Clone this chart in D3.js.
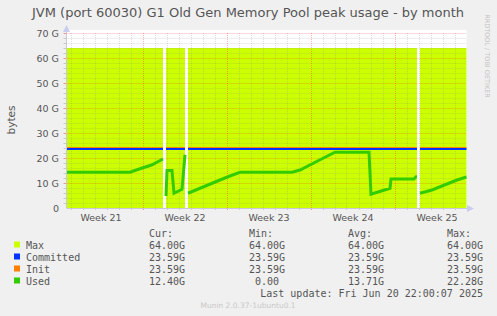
<!DOCTYPE html>
<html>
<head>
<meta charset="utf-8">
<script src="https://cdn.jsdelivr.net/npm/d3@7"></script>
<style>
  body { margin: 0; background: #f0f0f0; }
  svg { display: block; }
</style>
</head>
<body>
<div id="chart"></div>
<script>
// samples (GiB), null = no data
var sampleTimes = [
  "2025-05-18T16:00", "2025-05-23T23:00", "2025-05-24T16:00", "2025-05-25T18:00", "2025-05-26T17:00",
  "2025-05-26T19:00",
  "2025-05-26T23:00", "2025-05-27T01:00", "2025-05-27T11:00", "2025-05-27T15:00", "2025-05-28T07:00", "2025-05-28T13:00",
  "2025-05-28T16:00",
  "2025-05-28T19:00", "2025-05-29T19:00", "2025-05-30T23:00", "2025-06-01T03:00", "2025-06-02T03:00",
  "2025-06-06T11:00", "2025-06-07T03:00", "2025-06-09T01:00", "2025-06-10T01:00", "2025-06-12T21:00",
  "2025-06-13T01:00", "2025-06-14T15:00", "2025-06-14T17:00", "2025-06-16T15:00", "2025-06-16T19:00", "2025-06-16T21:00",
  "2025-06-17T00:00",
  "2025-06-17T03:00", "2025-06-18T03:00", "2025-06-20T05:00", "2025-06-21T00:00"
];
var usedValues = [
  14.3, 14.3, 15.5, 17.2, 19.6,
  null,
  4.8, 15.0, 15.0, 5.9, 7.5, 21.3,
  null,
  5.9, 7.9, 10.2, 12.5, 14.3,
  14.3, 15.2, 19.9, 22.3, 22.3,
  5.5, 7.9, 11.6, 11.6, 12.5, 12.5,
  null,
  5.9, 7.2, 11.2, 12.4
];
var maxValues = usedValues.map(function (v) { return v == null ? null : 64; });
var committedValues = usedValues.map(function (v) { return v == null ? null : 23.59; });
var initValues = usedValues.map(function (v) { return v == null ? null : 23.59; });

var yTicks = [0, 10, 20, 30, 40, 50, 60, 70];
var weekLabelDates = ["2025-05-21T12:00", "2025-05-28T12:00", "2025-06-04T12:00", "2025-06-11T12:00", "2025-06-18T12:00"];

var legendNames = ["Max", "Committed", "Init", "Used"];
var legendColors = ["#ccff00", "#0033ff", "#ff7f00", "#33cc00"];
var legendCur = ["64.00G", "23.59G", "23.59G", "12.40G"];
var legendMin = ["64.00G", "23.59G", "23.59G", " 0.00 "];
var legendAvg = ["64.00G", "23.59G", "23.59G", "13.71G"];
var legendMax = ["64.00G", "23.59G", "23.59G", "22.28G"];

var parse = d3.timeParse("%Y-%m-%dT%H:%M");
var rows = sampleTimes.map(function (t, i) {
    return { t: parse(t), max: maxValues[i], committed: committedValues[i], init: initValues[i], used: usedValues[i] };
});

var svg = d3.select("#chart").append("svg").attr("width", 497).attr("height", 316);

var x = d3.scaleTime().domain([parse("2025-05-18T16:00"), parse("2025-06-21T00:00")]).range([66.5, 466.5]);
var y = d3.scaleLinear().domain([0, 70]).range([208, 33]);

// plot background
svg.append("rect").attr("x", 66.5).attr("y", 30).attr("width", 400).attr("height", 178).attr("fill", "#ffffff");

// Max area
var area = d3.area()
    .defined(function (d) { return d.max != null; })
    .x(function (d) { return x(d.t); })
    .y0(y(0))
    .y1(function (d) { return y(d.max); });
svg.append("path").datum(rows).attr("d", area).attr("fill", "#ccff00");

// grid
var grid = svg.append("g");
var days = d3.timeDay.range(d3.timeDay.ceil(x.domain()[0]), x.domain()[1]);
days.forEach(function (d) {
    var sunday = d.getDay() === 0;
    grid.append("line")
        .attr("x1", Math.round(x(d)) + 0.5).attr("x2", Math.round(x(d)) + 0.5)
        .attr("y1", y(70)).attr("y2", y(0))
        .attr("stroke", sunday ? "rgba(255,0,0,0.3)" : "rgba(128,128,128,0.25)")
        .attr("stroke-dasharray", "1,1");
    grid.append("line")
        .attr("x1", Math.round(x(d)) + 0.5).attr("x2", Math.round(x(d)) + 0.5)
        .attr("y1", y(0)).attr("y2", y(0) + 2)
        .attr("stroke", sunday ? "rgba(255,0,0,0.4)" : "#c8c8c8");
});
d3.range(2, 71, 2).forEach(function (v) {
    var major = v % 10 === 0;
    grid.append("line")
        .attr("x1", 66.5).attr("x2", 466.5)
        .attr("y1", Math.round(y(v)) + 0.5).attr("y2", Math.round(y(v)) + 0.5)
        .attr("stroke", major ? "rgba(255,0,0,0.3)" : "rgba(128,128,128,0.25)")
        .attr("stroke-dasharray", "1,1");
    grid.append("line")
        .attr("x1", 63.5).attr("x2", 66.5)
        .attr("y1", Math.round(y(v)) + 0.5).attr("y2", Math.round(y(v)) + 0.5)
        .attr("stroke", major ? "rgba(255,0,0,0.4)" : "#c8c8c8");
});

// lines
function lineFor(key) {
    return d3.line()
        .defined(function (d) { return d[key] != null; })
        .x(function (d) { return x(d.t); })
        .y(function (d) { return y(d[key]); });
}
svg.append("path").datum(rows).attr("d", lineFor("init")).attr("transform", "translate(0,-1.5)")
    .attr("fill", "none").attr("stroke", "#ff7f00").attr("stroke-width", 1);
svg.append("path").datum(rows).attr("d", lineFor("committed"))
    .attr("fill", "none").attr("stroke", "#0033ff").attr("stroke-width", 2);
svg.append("path").datum(rows).attr("d", lineFor("used")).attr("fill", "none").attr("stroke", "#33cc00").attr("stroke-width", 3);

// axes lines and arrows
svg.append("line").attr("x1", 66.5).attr("x2", 66.5).attr("y1", 208).attr("y2", 30).attr("stroke", "#c8c8d8");
svg.append("line").attr("x1", 66.5).attr("x2", 470).attr("y1", 208.5).attr("y2", 208.5).attr("stroke", "#c8c8d8");
svg.append("path").attr("d", "M63,32 L70,32 L66.5,25 Z").attr("fill", "#c8ccf0");
svg.append("path").attr("d", "M467,205 L467,212 L474,208.5 Z").attr("fill", "#c8ccf0");

// axis labels
var yAxis = d3.axisLeft(y).tickValues(yTicks).tickSize(0).tickPadding(7)
    .tickFormat(function (v) { return v === 0 ? "0" : v + " G"; });
var gy = svg.append("g").attr("transform", "translate(66,0)").call(yAxis);
gy.select(".domain").remove();
gy.selectAll("text").attr("font-family", "DejaVu Sans").attr("font-size", "9.5px").attr("fill", "#555");

var xAxis = d3.axisBottom(x).tickValues(weekLabelDates.map(parse)).tickSize(0).tickPadding(6)
    .tickFormat(d3.timeFormat("Week %V"));
var gx = svg.append("g").attr("transform", "translate(0,208)").call(xAxis);
gx.select(".domain").remove();
gx.selectAll("text").attr("font-family", "DejaVu Sans").attr("font-size", "9.5px").attr("fill", "#555");

// titles
svg.append("text").text("JVM (port 60030) G1 Old Gen Memory Pool peak usage - by month")
    .attr("x", 248).attr("y", 17).attr("text-anchor", "middle")
    .attr("font-family", "DejaVu Sans").attr("font-size", "13px").attr("fill", "#555");
svg.append("text").text("bytes")
    .attr("transform", "translate(15,120) rotate(-90)").attr("text-anchor", "middle")
    .attr("font-family", "DejaVu Sans").attr("font-size", "10.5px").attr("fill", "#555");
svg.append("text").text("RRDTOOL / TOBI OETIKER")
    .attr("transform", "translate(485,56) rotate(90)").attr("text-anchor", "middle")
    .attr("font-family", "DejaVu Sans").attr("font-size", "6.5px").attr("fill", "#c4c4c4");

// legend
var mono = "DejaVu Sans Mono";
var headers = [["Cur:", 149], ["Min:", 249], ["Avg:", 348], ["Max:", 447]];
headers.forEach(function (h) {
    svg.append("text").text(h[0]).attr("x", h[1]).attr("y", 236.5)
        .attr("font-family", mono).attr("font-size", "10px").attr("fill", "#555");
});
var cols = [[legendCur, 185], [legendMin, 285], [legendAvg, 384], [legendMax, 483]];
legendNames.forEach(function (name, i) {
    var cy = 248.5 + i * 12;
    svg.append("rect").attr("x", 14).attr("y", cy - 7).attr("width", 6).attr("height", 6).attr("fill", legendColors[i]);
    svg.append("text").text(name).attr("x", 26).attr("y", cy)
        .attr("font-family", mono).attr("font-size", "10px").attr("fill", "#555");
    cols.forEach(function (c) {
        svg.append("text").text(c[0][i]).attr("x", c[1]).attr("y", cy)
            .attr("text-anchor", "end").style("white-space", "pre")
            .attr("font-family", mono).attr("font-size", "10px").attr("fill", "#555");
    });
});
svg.append("text").text("Last update: Fri Jun 20 22:00:07 2025").attr("x", 483).attr("y", 296.5)
    .attr("text-anchor", "end").attr("font-family", mono).attr("font-size", "10px").attr("fill", "#555");
svg.append("text").text("Munin 2.0.37-1ubuntu0.1").attr("x", 248).attr("y", 308)
    .attr("text-anchor", "middle").attr("font-family", "DejaVu Sans").attr("font-size", "7.5px").attr("fill", "#c8c8c8");
</script>
</body>
</html>
